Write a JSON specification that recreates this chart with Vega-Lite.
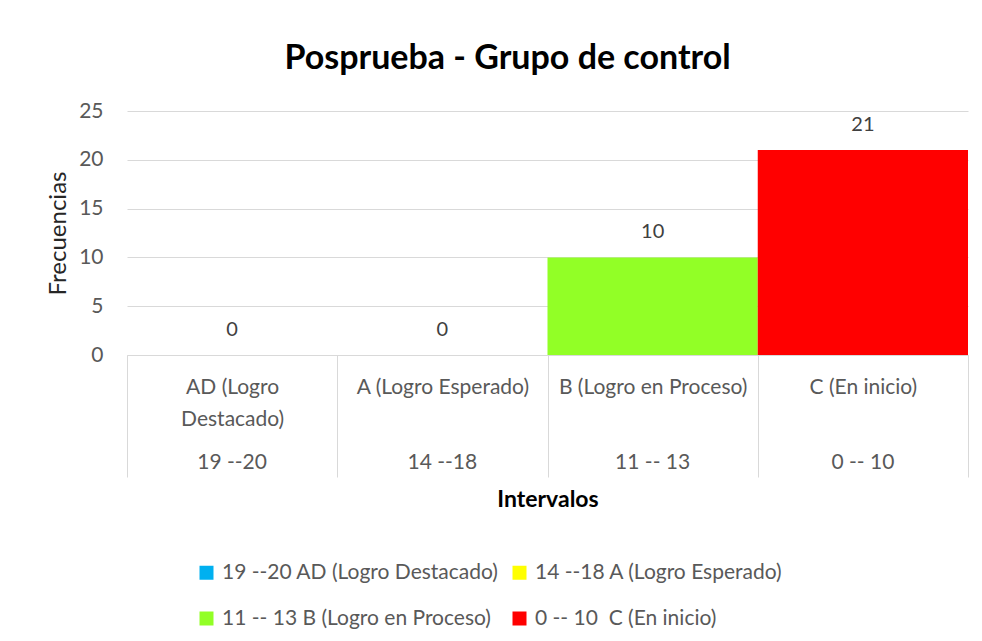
{
  "$schema": "https://vega.github.io/schema/vega-lite/v6.json",
  "width": 841,
  "height": 244,
  "autosize": {"type": "none"},
  "padding": {"left": 127, "top": 111, "right": 14, "bottom": 286},
  "background": "white",
  "config": {
    "font": "Lato",
    "view": {"stroke": null}
  },
  "title": {
    "text": "Posprueba - Grupo de control",
    "fontSize": 34,
    "fontWeight": "bold",
    "color": "#000000",
    "font": "Lato",
    "frame": "bounds",
    "anchor": "middle",
    "offset": 24
  },
  "data": {
    "values": [
      {"cat": "AD (Logro Destacado)", "interval": "19 --20", "serie": "19 --20 AD (Logro Destacado)", "value": 0},
      {"cat": "A (Logro Esperado)", "interval": "14 --18", "serie": "14 --18 A (Logro Esperado)", "value": 0},
      {"cat": "B (Logro en Proceso)", "interval": "11 -- 13", "serie": "11 -- 13 B (Logro en Proceso)", "value": 10},
      {"cat": "C (En inicio)", "interval": "0 -- 10", "serie": "0 -- 10\u00a0 C (En inicio)", "value": 21}
    ]
  },
  "layer": [
    {
      "mark": {"type": "bar"},
      "encoding": {
        "x": {
          "field": "cat",
          "type": "nominal",
          "sort": null,
          "scale": {"type": "band", "paddingInner": 0, "paddingOuter": 0},
          "axis": {
            "orient": "bottom",
            "title": null,
            "labelAngle": 0,
            "labelExpr": "datum.label == 'AD (Logro Destacado)' ? ['AD (Logro', 'Destacado)'] : datum.label",
            "labelFontSize": 21,
            "labelColor": "#595959",
            "labelLineHeight": 32,
            "labelLimit": 0,
            "labelPadding": -101,
            "tickBand": "extent",
            "tickSize": 122,
            "tickColor": "#D9D9D9",
            "tickWidth": 1,
            "domainColor": "#D9D9D9",
            "domainWidth": 1
          }
        },
        "y": {
          "field": "value",
          "type": "quantitative",
          "scale": {"domain": [0, 25], "nice": false},
          "axis": {
            "title": "Frecuencias",
            "titleFontSize": 24,
            "titleFontWeight": "normal",
            "titleColor": "#262626",
            "titlePadding": 8,
            "values": [0, 5, 10, 15, 20, 25],
            "labelFontSize": 21,
            "labelColor": "#595959",
            "labelPadding": 24,
            "ticks": false,
            "domain": false,
            "gridColor": "#D9D9D9",
            "gridWidth": 1
          }
        },
        "color": {
          "field": "serie",
          "type": "nominal",
          "sort": null,
          "scale": {
            "domain": ["19 --20 AD (Logro Destacado)", "14 --18 A (Logro Esperado)", "11 -- 13 B (Logro en Proceso)", "0 -- 10\u00a0 C (En inicio)"],
            "range": ["#00B0F0", "#FFFF00", "#92FF26", "#FF0000"]
          },
          "legend": {
            "orient": "none",
            "direction": "horizontal",
            "legendX": 69,
            "legendY": 451,
            "columns": 2,
            "title": null,
            "symbolType": "square",
            "symbolSize": 196,
            "symbolStrokeWidth": 0,
            "labelFontSize": 21,
            "labelColor": "#595959",
            "labelOffset": 5,
            "labelLimit": 0,
            "rowPadding": 24,
            "columnPadding": 10
          }
        }
      }
    },
    {
      "mark": {"type": "text", "dy": -25, "baseline": "middle", "fontSize": 20, "color": "#404040"},
      "encoding": {
        "x": {
          "field": "interval",
          "type": "nominal",
          "sort": null,
          "scale": {"type": "band", "paddingInner": 0, "paddingOuter": 0},
          "axis": {
            "orient": "bottom",
            "title": "Intervalos",
            "titleFontSize": 23,
            "titleFontWeight": "bold",
            "titleColor": "#000000",
            "titlePadding": 16,
            "labelAngle": 0,
            "labelFontSize": 21,
            "labelColor": "#595959",
            "labelPadding": 96,
            "ticks": false,
            "domain": false,
            "labelLimit": 0
          }
        },
        "y": {"field": "value", "type": "quantitative"},
        "text": {"field": "value", "type": "quantitative"}
      }
    }
  ],
  "resolve": {"scale": {"x": "independent"}, "axis": {"x": "independent"}}
}
